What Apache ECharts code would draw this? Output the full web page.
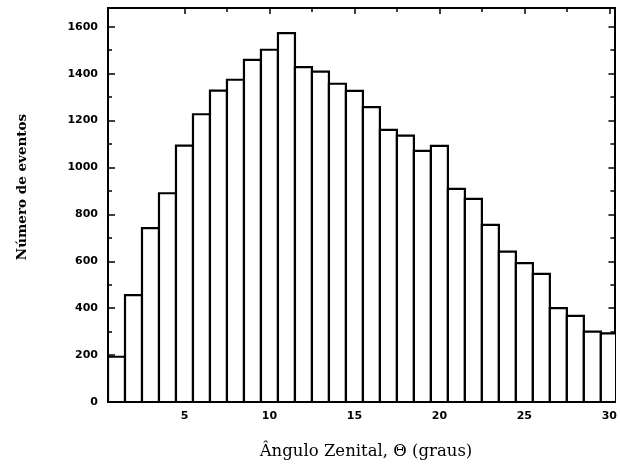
<!DOCTYPE html>
<html>
<head>
<meta charset="utf-8">
<script src="https://cdn.jsdelivr.net/npm/echarts@6/dist/echarts.min.js"></script>
<style>
html,body{margin:0;padding:0;background:#fff;}
#chart{width:620px;height:467px;}
</style>
</head>
<body>
<div id="chart"></div>
<script>
// Bin centres (zenith angle, degrees) and counts per bin
var bins = [1,2,3,4,5,6,7,8,9,10,11,12,13,14,15,16,17,18,19,20,21,22,23,24,25,26,27,28,29,30];
var counts = [193,456,741,890,1093,1227,1328,1374,1459,1502,1573,1428,1409,1357,1327,1257,1160,1136,1071,1092,909,866,755,641,592,546,400,367,300,293];
// Tick labels
var xTickLabels = [5,10,15,20,25,30];
var xMinorTicks = [5,7.5,10,12.5,15,17.5,20,22.5,25,27.5,30];
var yTickLabels = [0,200,400,600,800,1000,1200,1400,1600];
var yMinorTicks = [100,300,500,700,900,1100,1300,1500];
var xTitle = 'Ângulo Zenital, Θ (graus)';
var yTitle = 'Número de eventos';

var XMIN = 0.5, XMAX = 30.3, YMIN = 0, YMAX = 1680;
var chart = echarts.init(document.getElementById('chart'), null, {renderer:'canvas'});
var lineStyle = {color:'#000', width:2};
var labelFont = {color:'#000', fontFamily:'DejaVu Sans', fontWeight:'bold', fontSize:11};

function xAx(pos, ticks, len, labels) {
  return {
    type:'value', position:pos, min:XMIN, max:XMAX,
    axisLine:{show:true, onZero:false, lineStyle:lineStyle},
    axisTick:{show:true, inside:true, length:len, customValues:ticks, lineStyle:{color:'#000', width:1.5}},
    axisLabel: labels ? Object.assign({show:true, margin:9, customValues:labels, formatter:function(v){return String(v);}}, labelFont) : {show:false},
    splitLine:{show:false}
  };
}
function yAx(pos, ticks, len, labels) {
  return {
    type:'value', position:pos, min:YMIN, max:YMAX, offset:0,
    axisLine:{show:true, onZero:false, lineStyle:lineStyle},
    axisTick:{show:true, inside:true, length:len, customValues:ticks, lineStyle:{color:'#000', width:1.5}},
    axisLabel: labels ? Object.assign({show:true, margin:10, customValues:labels, formatter:function(v){return String(v);}}, labelFont) : {show:false},
    splitLine:{show:false}
  };
}

var data = bins.map(function(b,i){return [b, counts[i]];});

chart.setOption({
  backgroundColor:'#fff',
  animation:false,
  grid:{left:108, right:3, top:8, bottom:65, containLabel:false},
  xAxis:[
    xAx('bottom', xTickLabels, 6, xTickLabels),
    xAx('top', xTickLabels, 6, null),
    xAx('top', xMinorTicks, 4, null)
  ],
  yAxis:[
    yAx('left', yTickLabels, 7, yTickLabels),
    yAx('left', yMinorTicks, 4, null),
    yAx('right', yTickLabels, 6, null),
    yAx('right', yMinorTicks, 4, null)
  ],
  series:[{
    type:'custom',
    xAxisIndex:0, yAxisIndex:0,
    clip:true,
    data:data,
    renderItem:function(params, api){
      var x = api.value(0), y = api.value(1);
      var p1 = api.coord([x-0.5, y]);
      var p2 = api.coord([x+0.5, 0]);
      return {
        type:'rect',
        shape:{x:p1[0], y:p1[1], width:p2[0]-p1[0], height:p2[1]-p1[1]},
        style:{fill:'#fff', stroke:'#000', lineWidth:2.2}
      };
    }
  }],
  graphic:[
    {type:'text', x:366, y:452, style:{text:xTitle, fill:'#000', font:'16.5px "DejaVu Serif"', align:'center', verticalAlign:'middle'}},
    {type:'text', x:22, y:187, rotation:Math.PI/2, style:{text:yTitle, fill:'#000', font:'bold 13.5px "DejaVu Serif"', align:'center', verticalAlign:'middle'}}
  ]
});
</script>
</body>
</html>
